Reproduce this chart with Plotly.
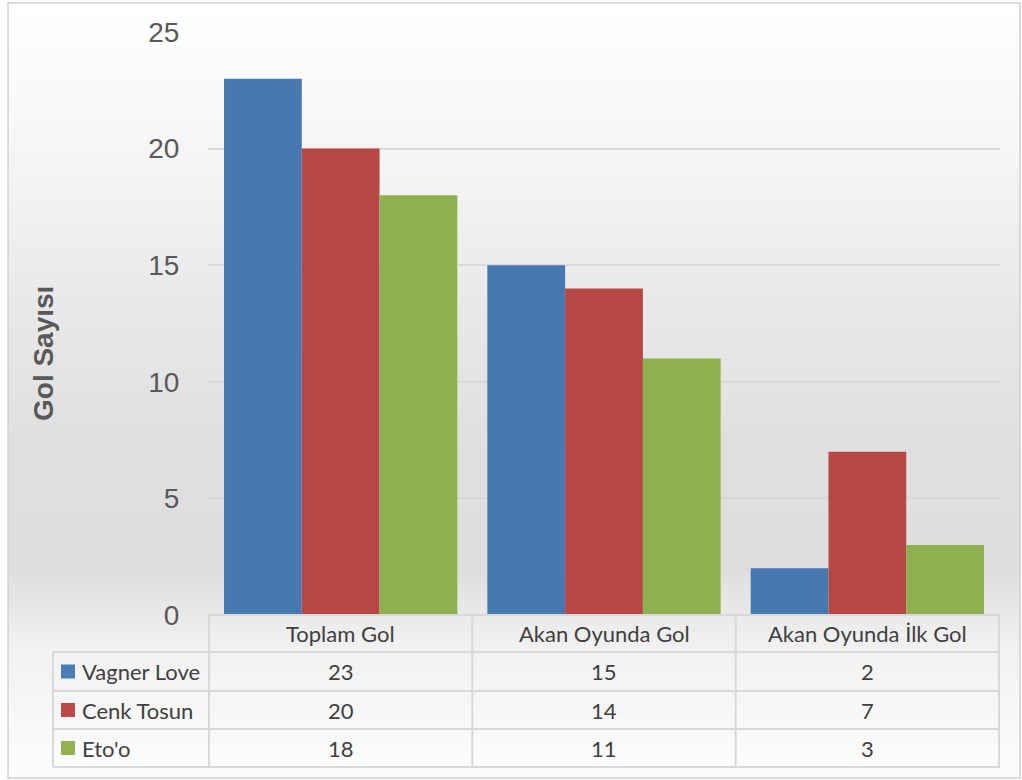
import base64, struct, zlib
import plotly.graph_objects as go

categories = ["Toplam Gol", "Akan Oyunda Gol", "Akan Oyunda İlk Gol"]
series_names = ["Vagner Love", "Cenk Tosun", "Eto'o"]
vagner_love = [23, 15, 2]
cenk_tosun = [20, 14, 7]
etoo = [18, 11, 3]
y_ticks = [0, 5, 10, 15, 20, 25]

values = [vagner_love, cenk_tosun, etoo]
colors = ["#4878B2", "#B64745", "#8FB04F"]
key_colors = ["#4A7CB8", "#B94A47", "#93B352"]

W, H = 1022, 780
ML, MR, MT, MB = 208, 22, 32, 165
PW, PH = W - ML - MR, H - MT - MB
BOTTOM = H - MB


def px(x):
    return (x - ML) / PW


def py(y):
    return (BOTTOM - y) / PH


# vertical background gradient image (decoration)
def gradient_png(stops, n):
    vals = []
    for y in range(n):
        for (y0, v0), (y1, v1) in zip(stops, stops[1:]):
            if y0 <= y <= y1:
                t = (y - y0) / (y1 - y0) if y1 > y0 else 0
                vals.append(int(round(v0 + (v1 - v0) * t)))
                break
    raw = b"".join(b"\x00" + bytes([v]) for v in vals)

    def chunk(tag, data):
        c = struct.pack(">I", len(data)) + tag + data
        return c + struct.pack(">I", zlib.crc32(tag + data) & 0xFFFFFFFF)

    png = b"\x89PNG\r\n\x1a\n"
    png += chunk(b"IHDR", struct.pack(">IIBBBBB", 1, n, 8, 0, 0, 0, 0))
    png += chunk(b"IDAT", zlib.compress(raw))
    png += chunk(b"IEND", b"")
    return "data:image/png;base64," + base64.b64encode(png).decode()


bg = gradient_png([(0, 255), (120, 248), (300, 233), (450, 223), (570, 222),
                   (615, 234), (652, 242), (780, 253)], 780)

fig = go.Figure()
for name, vals, col in zip(series_names, values, colors):
    fig.add_trace(go.Bar(x=categories, y=vals, name=name, marker_color=col,
                         marker_line_width=0, hoverinfo="skip"))

tbl_font = dict(family="Lato, Noto Sans, sans-serif", size=22, color="#404040")
row_lines = [652, 691, 729, 767]
row_centers = [(a + b) / 2 for a, b in zip(row_lines, row_lines[1:])]
header_center = (BOTTOM + row_lines[0]) / 2

annotations = []
for c in categories:
    annotations.append(dict(x=c, y=py(header_center), xref="x", yref="paper",
                            text=c, showarrow=False, font=tbl_font,
                            xanchor="center", yanchor="middle"))
for i, (name, vals) in enumerate(zip(series_names, values)):
    yc = py(row_centers[i])
    annotations.append(dict(x=px(80), y=yc, xref="paper", yref="paper",
                            text=name, showarrow=False, font=tbl_font,
                            xanchor="left", yanchor="middle"))
    for c, v in zip(categories, vals):
        annotations.append(dict(x=c, y=yc, xref="x", yref="paper",
                                text=str(v), showarrow=False, font=tbl_font,
                                xanchor="center", yanchor="middle"))
annotations.append(dict(x=px(43), y=py(354), xref="paper", yref="paper",
                        text="<b>Gol Sayısı</b>", textangle=-90, showarrow=False,
                        font=dict(family="Liberation Sans, Arial", size=28,
                                  color="#595959"),
                        xanchor="center", yanchor="middle"))

lc = "#d9d9d9"
shapes = []
# outer frame
shapes.append(dict(type="rect", xref="paper", yref="paper",
                   x0=px(8), x1=px(1020), y0=py(778), y1=py(3),
                   line=dict(color="#d0d0d0", width=1.5), layer="below"))
shapes.append(dict(type="line", xref="paper", yref="paper", x0=0, x1=1,
                   y0=py(BOTTOM), y1=py(BOTTOM), line=dict(color=lc, width=2)))
for yl in row_lines:
    shapes.append(dict(type="line", xref="paper", yref="paper",
                       x0=px(53), x1=1, y0=py(yl), y1=py(yl),
                       line=dict(color=lc, width=2)))
for xb in [-0.5, 0.5, 1.5, 2.5]:
    shapes.append(dict(type="line", xref="x", yref="paper", x0=xb, x1=xb,
                       y0=py(BOTTOM), y1=py(row_lines[-1]),
                       line=dict(color=lc, width=2)))
shapes.append(dict(type="line", xref="paper", yref="paper", x0=px(53), x1=px(53),
                   y0=py(row_lines[0]), y1=py(row_lines[-1]),
                   line=dict(color=lc, width=2)))
for i, kc in enumerate(key_colors):
    yc = row_centers[i]
    shapes.append(dict(type="rect", xref="paper", yref="paper",
                       x0=px(61), x1=px(75), y0=py(yc + 7), y1=py(yc - 7),
                       fillcolor=kc, line=dict(width=0)))

fig.update_layout(
    width=W, height=H,
    margin=dict(l=ML, r=MR, t=MT, b=MB),
    paper_bgcolor="white", plot_bgcolor="rgba(0,0,0,0)",
    barmode="group", bargap=0.114, bargroupgap=0,
    showlegend=False, hovermode=False,
    annotations=annotations, shapes=shapes,
    images=[dict(source=bg, xref="paper", yref="paper", x=px(8), y=py(3),
                 sizex=px(1020) - px(8), sizey=py(3) - py(778),
                 sizing="stretch", layer="below", xanchor="left", yanchor="top")],
    xaxis=dict(showticklabels=False, showgrid=False, zeroline=False,
               showline=False, ticks=""),
    yaxis=dict(range=[0, 25], tickvals=y_ticks, showgrid=True, gridcolor=lc,
               gridwidth=1.5, zeroline=False, showline=False,
               ticks="outside", ticklen=22, tickcolor="rgba(0,0,0,0)",
               tickfont=dict(family="Liberation Sans, Arial", size=28,
                             color="#595959")),
)

fig.write_html("out.html", config={"displayModeBar": False},
               post_script="document.body.style.margin='0';"
                           "document.body.style.overflow='hidden';")
